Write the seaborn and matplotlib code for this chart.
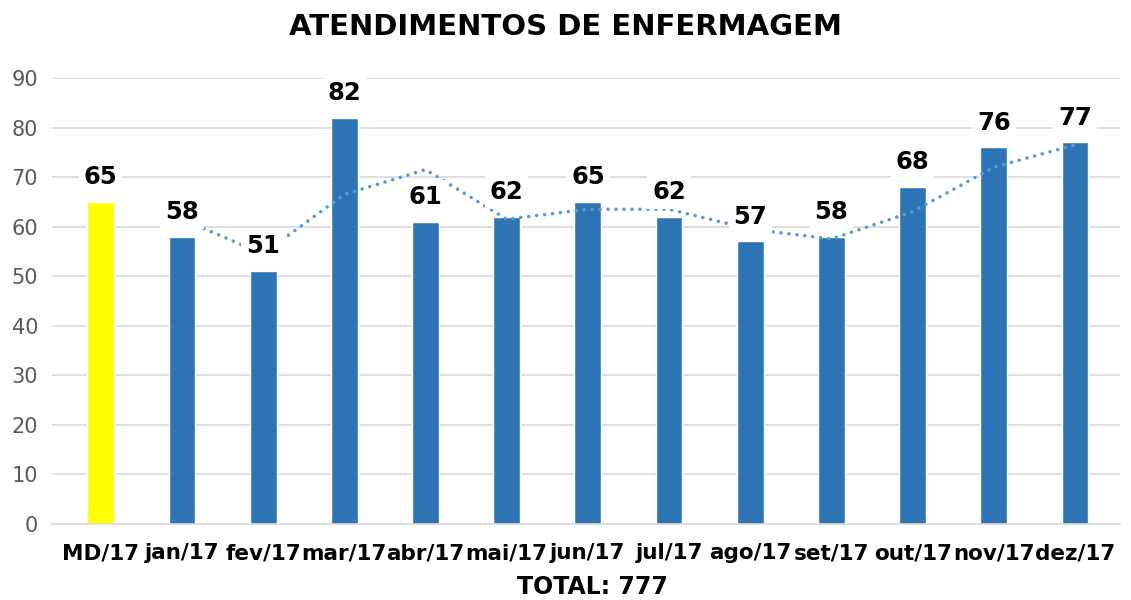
import numpy as np
import pandas as pd
import matplotlib
matplotlib.use("Agg")
import matplotlib.pyplot as plt
import seaborn as sns

# data
months = ["MD/17", "jan/17", "fev/17", "mar/17", "abr/17", "mai/17", "jun/17",
          "jul/17", "ago/17", "set/17", "out/17", "nov/17", "dez/17"]
atendimentos = [65, 58, 51, 82, 61, 62, 65, 62, 57, 58, 68, 76, 77]
# dotted trend line (2-period moving average), starts at jan/17
trend = [61.5, 54.5, 66.5, 71.5, 61.5, 63.5, 63.5, 59.5, 57.5, 63, 72, 76.5]
total = 777

sns.set_style("white")
plt.rcParams["font.family"] = ["DejaVu Sans"]
plt.rcParams["text.color"] = "black"
plt.rcParams["xtick.color"] = "black"

df = pd.DataFrame({"mes": months, "n": atendimentos})
colors = ["#FFFF00"] + ["#2E75B6"] * (len(months) - 1)

fig = plt.figure(figsize=(11.31, 6), dpi=100)
ax = fig.add_axes([0.046, 0.127, 0.944, 0.743])

sns.barplot(data=df, x="mes", y="n", hue="mes", palette=colors, legend=False,
            width=0.33, ax=ax, zorder=2, saturation=1)

ax.plot(np.arange(1, len(months)), trend, linestyle=(0, (0.01, 2.2)), color="#5B9BD5",
        lw=2.6, dash_capstyle="round", solid_capstyle="round", zorder=3)

for i, v in enumerate(atendimentos):
    ax.text(i, v + 5, str(v), ha="center", va="center", fontsize=17.5, fontweight="bold",
            color="black", zorder=5,
            bbox=dict(boxstyle="square,pad=0.2", fc="white", ec="none"))

ax.set_ylim(0, 90)
ax.set_xlim(-0.6, len(months) - 0.45)
ax.set_yticks(range(0, 91, 10))
ax.yaxis.grid(True, color="#D9D9D9", lw=1.2, zorder=0)
ax.set_axisbelow(True)
for s in ["top", "right", "left"]:
    ax.spines[s].set_visible(False)
ax.spines["bottom"].set_color("#D9D9D9")
ax.spines["bottom"].set_linewidth(1.2)
ax.tick_params(axis="y", length=0, labelsize=15, labelcolor="#595959", pad=10)
ax.tick_params(axis="x", length=0, labelsize=15.5, labelcolor="black", pad=14)
for t in ax.get_xticklabels():
    t.set_fontweight("bold")
ax.set_xlabel("")
ax.set_ylabel("")

fig.text(0.5, 0.955, "ATENDIMENTOS DE ENFERMAGEM", ha="center", va="center",
         fontsize=21, fontweight="bold", color="black")
fig.text(0.524, 0.022, f"TOTAL: {total}", ha="center", va="center",
         fontsize=17, fontweight="bold", color="black")

fig.savefig("out.png", dpi=100)
